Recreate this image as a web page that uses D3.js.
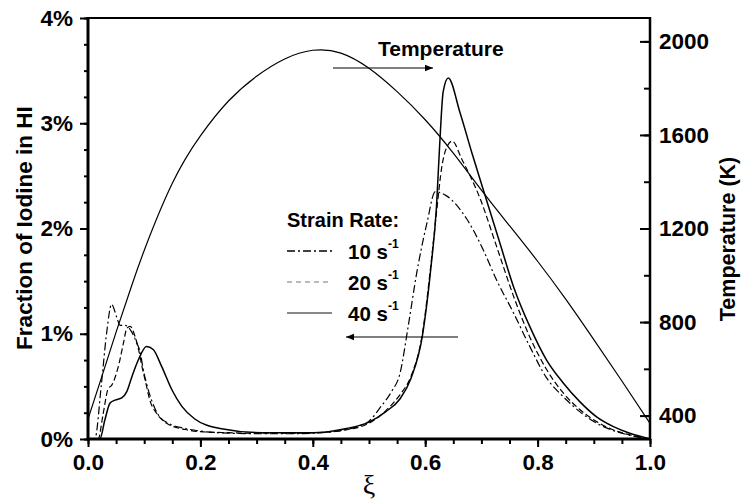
<!DOCTYPE html>
<html><head><meta charset="utf-8">
<script src="https://cdn.jsdelivr.net/npm/d3@7"></script>
<style>
body{margin:0;background:#fff}
svg{display:block}
text{font-family:"Liberation Sans",Arial,sans-serif;font-weight:bold;fill:#000}
</style>
</head><body>
<svg id="c" width="742" height="504"></svg>
<script>
// ---------- data ----------
const xTicks = [0, 0.2, 0.4, 0.6, 0.8, 1.0];
const yLeftTicks = [0, 1, 2, 3, 4];
const yRightTicks = [400, 800, 1200, 1600, 2000];

const xiT  = [0, 0.025, 0.05, 0.075, 0.1, 0.15, 0.2, 0.25, 0.3, 0.35, 0.4, 0.45, 0.5, 0.55, 0.6, 0.65, 0.7, 0.75, 0.8, 0.85, 0.9, 0.95, 1.0];
const temp = [385, 570, 757, 936, 1106, 1393, 1596, 1745, 1851, 1925, 1962, 1950, 1885, 1785, 1665, 1522, 1364, 1212, 1060, 898, 725, 548, 367];

const xi10 = [0, 0.012, 0.024, 0.033, 0.042, 0.051, 0.057, 0.066, 0.075, 0.087, 0.093, 0.098, 0.104, 0.113, 0.125, 0.143, 0.173, 0.2, 0.25, 0.3, 0.35, 0.4, 0.45, 0.48, 0.5, 0.52, 0.54, 0.555, 0.57, 0.585, 0.603, 0.618, 0.638, 0.674, 0.703, 0.727, 0.757, 0.786, 0.816, 0.846, 0.875, 0.905, 0.935, 0.964, 1.0];
const f10  = [0, 0, 0.53, 1.0, 1.28, 1.16, 1.08, 1.08, 1.04, 0.91, 0.82, 0.67, 0.53, 0.37, 0.23, 0.15, 0.10, 0.075, 0.055, 0.05, 0.05, 0.055, 0.08, 0.12, 0.17, 0.30, 0.45, 0.62, 1.08, 1.58, 2.05, 2.35, 2.31, 2.09, 1.80, 1.51, 1.20, 0.88, 0.58, 0.40, 0.26, 0.15, 0.08, 0.035, 0];

const xi20 = [0, 0.018, 0.027, 0.036, 0.042, 0.054, 0.063, 0.069, 0.075, 0.084, 0.090, 0.096, 0.103, 0.110, 0.122, 0.14, 0.173, 0.2, 0.25, 0.3, 0.35, 0.4, 0.45, 0.5, 0.53, 0.555, 0.575, 0.595, 0.61, 0.62, 0.63, 0.64, 0.648, 0.665, 0.698, 0.727, 0.757, 0.786, 0.816, 0.846, 0.875, 0.905, 0.935, 0.964, 1.0];
const f20  = [0, 0, 0.24, 0.48, 0.51, 0.69, 0.91, 1.05, 1.07, 0.97, 0.85, 0.69, 0.53, 0.37, 0.245, 0.15, 0.09, 0.07, 0.06, 0.055, 0.055, 0.06, 0.08, 0.15, 0.27, 0.42, 0.60, 1.0, 1.65, 2.15, 2.6, 2.79, 2.83, 2.66, 2.28, 1.83, 1.36, 0.97, 0.66, 0.435, 0.28, 0.165, 0.086, 0.04, 0];

const xi40 = [0, 0.021, 0.030, 0.039, 0.048, 0.060, 0.069, 0.078, 0.0895, 0.104, 0.116, 0.131, 0.149, 0.167, 0.19, 0.235, 0.31, 0.4, 0.46, 0.5, 0.53, 0.555, 0.575, 0.595, 0.61, 0.62, 0.626, 0.632, 0.641, 0.662, 0.683, 0.705, 0.733, 0.757, 0.786, 0.816, 0.846, 0.875, 0.905, 0.935, 0.964, 1.0];
const f40  = [0, 0, 0.18, 0.34, 0.37, 0.39, 0.45, 0.59, 0.75, 0.88, 0.85, 0.69, 0.47, 0.31, 0.19, 0.10, 0.06, 0.06, 0.10, 0.16, 0.26, 0.38, 0.58, 0.98, 1.62, 2.2, 2.82, 3.3, 3.43, 3.10, 2.72, 2.34, 1.86, 1.45, 1.07, 0.75, 0.53, 0.355, 0.21, 0.117, 0.054, 0];

const legendLabels = ["10", "20", "40"];

// ---------- layout ----------
const svg = d3.select("#c");
const L = 88, R = 650, T = 18, B = 439;
const x = d3.scaleLinear([0, 1], [L, R]);
const yL = d3.scaleLinear([0, 4], [B, T]);
const yR = d3.scaleLinear([300, 2100], [B, T]);

// minor ticks
svg.append("g").attr("transform", `translate(${L},0)`)
  .call(d3.axisLeft(yL).tickValues(d3.range(0, 4.001, 0.25)).tickSize(4).tickFormat(""))
  .call(g => g.select(".domain").remove());
svg.append("g").attr("transform", `translate(0,${B})`)
  .call(d3.axisBottom(x).tickValues(d3.range(0, 1.0001, 0.05)).tickSize(5).tickFormat(""))
  .call(g => g.select(".domain").remove());
svg.append("g").attr("transform", `translate(${R},0)`)
  .call(d3.axisRight(yR).tickValues(d3.range(400, 2001, 200)).tickSizeInner(-6).tickSizeOuter(0).tickFormat(""))
  .call(g => g.select(".domain").remove());

// major axes
const gl = svg.append("g").attr("transform", `translate(${L},0)`)
  .call(d3.axisLeft(yL).tickValues(yLeftTicks).tickSize(8).tickPadding(7).tickFormat(d => d + "%"));
const gb = svg.append("g").attr("transform", `translate(0,${B})`)
  .call(d3.axisBottom(x).tickValues(xTicks).tickSize(8).tickPadding(7).tickFormat(d3.format(".1f")));
const gr = svg.append("g").attr("transform", `translate(${R},0)`)
  .call(d3.axisRight(yR).tickValues(yRightTicks).tickSizeInner(-10).tickSizeOuter(0).tickPadding(9).tickFormat(d3.format("d")));
[gl, gb, gr].forEach(g => {
  g.select(".domain").remove();
  g.selectAll("text").style("font-size", "22.5px").attr("font-family", null).attr("fill", "#000");
});
svg.selectAll(".tick line").attr("stroke", "#000").attr("stroke-width", 2);

// frame
svg.append("line").attr("x1", L).attr("x2", R).attr("y1", T).attr("y2", T).attr("stroke", "#000").attr("stroke-width", 2);
svg.append("line").attr("x1", R).attr("x2", R).attr("y1", T - 1).attr("y2", B + 1).attr("stroke", "#000").attr("stroke-width", 2.5);
svg.append("line").attr("x1", L).attr("x2", R + 1).attr("y1", B).attr("y2", B).attr("stroke", "#000").attr("stroke-width", 3);
svg.append("line").attr("x1", L).attr("x2", L).attr("y1", T - 1).attr("y2", B + 1.5).attr("stroke", "#000").attr("stroke-width", 3);

// lines
const lineF = d3.line().x(d => x(d[0])).y(d => yL(d[1])).curve(d3.curveMonotoneX);
const lineT = d3.line().x(d => x(d[0])).y(d => yR(d[1])).curve(d3.curveNatural);

svg.append("path").datum(d3.zip(xiT, temp)).attr("d", lineT)
  .attr("fill", "none").attr("stroke", "#000").attr("stroke-width", 1.2);
svg.append("path").datum(d3.zip(xi10, f10)).attr("d", lineF)
  .attr("fill", "none").attr("stroke", "#000").attr("stroke-width", 1.2).attr("stroke-dasharray", "8,3,2,3");
svg.append("path").datum(d3.zip(xi20, f20)).attr("d", lineF)
  .attr("fill", "none").attr("stroke", "#000").attr("stroke-width", 1.2).attr("stroke-dasharray", "6,3");
svg.append("path").datum(d3.zip(xi40, f40)).attr("d", lineF)
  .attr("fill", "none").attr("stroke", "#000").attr("stroke-width", 1.5);

// axis titles
svg.append("text").attr("transform", "translate(32,228) rotate(-90)").attr("text-anchor", "middle")
  .style("font-size", "22.5px").text("Fraction of Iodine in HI");
svg.append("text").attr("transform", "translate(735,239) rotate(-90)").attr("text-anchor", "middle")
  .style("font-size", "21.5px").text("Temperature (K)");
svg.append("text").attr("x", 369).attr("y", 494).attr("text-anchor", "middle")
  .style("font-family", "'Liberation Serif','DejaVu Serif',serif").style("font-weight", "normal").style("font-size", "28px").text("ξ");

// legend
svg.append("text").attr("x", 287).attr("y", 227).style("font-size", "20px").text("Strain Rate:");
const lg = [
  {dash: "8,3,2,3", color: "#000", w: 1.5},
  {dash: "5,4", color: "#777", w: 1.2},
  {dash: null, color: "#888", w: 2}
];
lg.forEach((s, i) => {
  const yy = 251 + i * 31;
  svg.append("line").attr("x1", 287).attr("x2", 332).attr("y1", yy).attr("y2", yy)
    .attr("stroke", s.color).attr("stroke-width", s.w).attr("stroke-dasharray", s.dash);
  const t = svg.append("text").attr("x", 348).attr("y", yy + 8).style("font-size", "20.5px");
  t.append("tspan").text(legendLabels[i] + " s");
  t.append("tspan").attr("dy", -11).style("font-size", "12px").text("-1");
});

// arrows
svg.append("defs").append("marker").attr("id", "ah").attr("viewBox", "0 0 10 10")
  .attr("refX", 10).attr("refY", 5).attr("markerWidth", 10).attr("markerHeight", 8)
  .attr("markerUnits", "userSpaceOnUse").attr("orient", "auto")
  .append("path").attr("d", "M0,1L10,5L0,9Z").attr("fill", "#000");
svg.append("line").attr("x1", 333).attr("x2", 433).attr("y1", 68).attr("y2", 68)
  .attr("stroke", "#000").attr("stroke-width", 1.2).attr("marker-end", "url(#ah)");
svg.append("line").attr("x1", 458).attr("x2", 346).attr("y1", 337).attr("y2", 337)
  .attr("stroke", "#000").attr("stroke-width", 1.2).attr("marker-end", "url(#ah)");
svg.append("text").attr("x", 378).attr("y", 56).style("font-size", "21px").text("Temperature");
</script>
</body></html>
